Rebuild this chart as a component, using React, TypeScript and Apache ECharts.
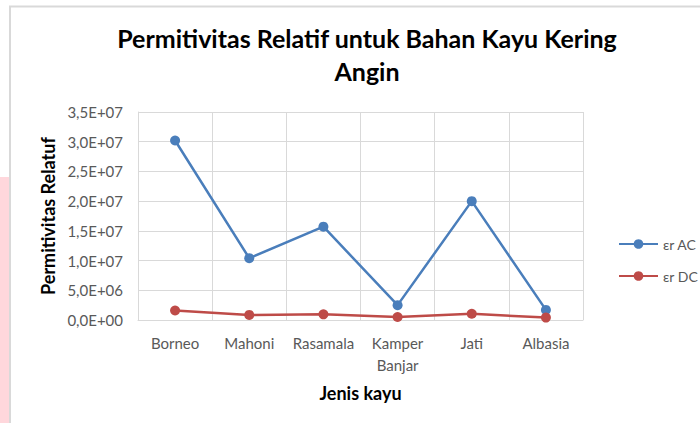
import React, { useEffect, useRef } from "react";
import * as echarts from "echarts";

const categories = ["Borneo", "Mahoni", "Rasamala", "Kamper\nBanjar", "Jati", "Albasia"];
const acValues = [3.02e7, 1.04e7, 1.57e7, 2.5e6, 2.0e7, 1.7e6];
const dcValues = [1.6e6, 8.5e5, 9.5e5, 5.0e5, 1.05e6, 4.0e5];
const seriesNames = ["εr AC", "εr DC"];
const yMin = 0;
const yMax = 3.5e7;
const yInterval = 5e6;

function fmt(v: number): string {
  if (v === 0) return "0,0E+00";
  const e = Math.floor(Math.log10(v) + 1e-9);
  const m = v / Math.pow(10, e);
  return m.toFixed(1).replace(".", ",") + "E+" + String(e).padStart(2, "0");
}

const FONT = "Lato, 'Open Sans', sans-serif";

export default function App() {
  const ref = useRef<HTMLDivElement>(null);
  useEffect(() => {
    if (!ref.current) return;
    const chart = echarts.init(ref.current, null, { renderer: "svg" });
    chart.setOption({
      animation: false,
      backgroundColor: "#ffffff",
      textStyle: { fontFamily: FONT },
      graphic: [
        { type: "rect", shape: { x: 0, y: 177, width: 9, height: 260 }, style: { fill: "#ffd7dc" }, silent: true },
        { type: "rect", shape: { x: 10, y: 6.5, width: 720, height: 440 }, style: { fill: "none", stroke: "#d9d9d9", lineWidth: 2 }, silent: true },
      ],
      title: {
        text: "Permitivitas Relatif untuk Bahan Kayu Kering\nAngin",
        left: 362,
        top: 16,
        textAlign: "center",
        textStyle: { fontFamily: FONT, fontSize: 25, fontWeight: "bold", color: "#000000", lineHeight: 33 },
      },
      legend: {
        orient: "vertical",
        left: 613,
        top: 232,
        itemWidth: 39,
        itemHeight: 12,
        itemGap: 18,
        textStyle: { fontFamily: FONT, fontSize: 14, color: "#595959" },
        data: seriesNames,
      },
      grid: { left: 138, right: 117, top: 112, bottom: 103, containLabel: false },
      xAxis: {
        type: "category",
        data: categories,
        boundaryGap: true,
        name: "Jenis kayu",
        nameLocation: "middle",
        nameGap: 64,
        nameTextStyle: { fontFamily: FONT, fontSize: 18, fontWeight: "bold", color: "#000000" },
        axisLine: { lineStyle: { color: "#d9d9d9", width: 1 } },
        axisTick: { show: false },
        axisLabel: { fontFamily: FONT, fontSize: 15, color: "#595959", margin: 12, lineHeight: 22, interval: 0 },
        splitLine: { show: true, lineStyle: { color: "#d9d9d9", width: 1 } },
      },
      yAxis: {
        type: "value",
        min: yMin,
        max: yMax,
        interval: yInterval,
        name: "Permitivitas Relatuf",
        nameLocation: "middle",
        nameGap: 81,
        nameTextStyle: { fontFamily: FONT, fontSize: 18, fontWeight: "bold", color: "#000000" },
        axisLine: { show: true, lineStyle: { color: "#d9d9d9" } },
        axisTick: { show: false },
        axisLabel: { fontFamily: FONT, fontSize: 15, color: "#595959", margin: 15, formatter: (v: number) => fmt(v) },
        splitLine: { show: true, lineStyle: { color: "#d9d9d9", width: 1 } },
      },
      series: [
        {
          name: seriesNames[0],
          type: "line",
          data: acValues,
          symbol: "circle",
          symbolSize: 10,
          color: "#4a7ebb",
          lineStyle: { width: 2.5, color: "#4a7ebb" },
          itemStyle: { color: "#4a7ebb" },
        },
        {
          name: seriesNames[1],
          type: "line",
          data: dcValues,
          symbol: "circle",
          symbolSize: 10,
          color: "#be4b48",
          lineStyle: { width: 2.5, color: "#be4b48" },
          itemStyle: { color: "#be4b48" },
        },
      ],
    });
    return () => chart.dispose();
  }, []);
  return <div ref={ref} style={{ position: "fixed", left: 0, top: 0, width: 700, height: 423 }} />;
}
